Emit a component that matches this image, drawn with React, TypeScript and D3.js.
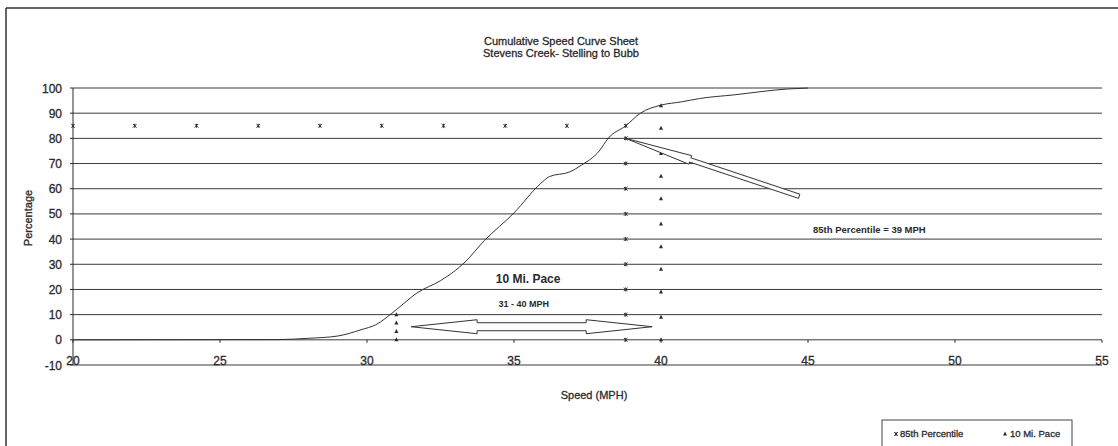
import React from "react";
import * as d3 from "d3";

// ---- data ----
const speeds = [20, 27, 28, 29, 29.8, 30.3, 31, 31.7, 32.5, 33, 33.3, 34, 35, 35.9, 36.2, 36.9, 37.3, 37.9, 38.2, 38.8, 39.3, 40, 40.7, 41.3, 42.5, 44.3, 45];
const cumPct = [0, 0.1, 0.6, 1.5, 4, 6, 12, 18.6, 23.5, 27.5, 30.5, 39.5, 50.4, 62, 64.8, 66.7, 69.4, 75, 80, 85, 90, 93.2, 94.5, 95.8, 97.3, 99.6, 100];

const pct85X = [20, 22.1, 24.2, 26.3, 28.4, 30.5, 32.6, 34.7, 36.8, 38.8, 38.8, 38.8, 38.8, 38.8, 38.8, 38.8, 38.8, 38.8, 38.8];
const pct85Y = [85, 85, 85, 85, 85, 85, 85, 85, 85, 85, 80, 70, 60, 50, 40, 30, 20, 10, 0];

const paceX = [31, 31, 31, 31, 40, 40, 40, 40, 40, 40, 40, 40, 40, 40, 40];
const paceY = [10, 6.7, 3.3, 0, 93, 84, 74, 65, 56, 46, 37, 28, 19, 9, 0];

const xTicks = [20, 25, 30, 35, 40, 45, 50, 55];
const yTicks = [-10, 0, 10, 20, 30, 40, 50, 60, 70, 80, 90, 100];

const titleLines = ["Cumulative Speed Curve Sheet", "Stevens Creek- Stelling to Bubb"];

export default function App() {
  const W = 1118, H = 446;
  const x = d3.scaleLinear().domain([20, 55]).range([73, 1102]);
  const y = d3.scaleLinear().domain([-10, 100]).range([365, 88]);
  const ink = "#2a2a2a";
  const font = "'Liberation Sans', Arial, sans-serif";
  const heavy = { stroke: ink, strokeWidth: 0.3 } as const;

  const line = d3.line<number>()
    .x((_, i) => x(speeds[i]))
    .y((d) => y(d))
    .curve(d3.curveMonotoneX);

  // callout arrow (tip at 85th percentile point, tail down-right)
  const tip: [number, number] = [x(38.8), y(80)];
  const tail: [number, number] = [x(44.7), y(57)];
  const dx = tail[0] - tip[0], dy = tail[1] - tip[1];
  const len = Math.hypot(dx, dy);
  const ux = dx / len, uy = dy / len, nx = -uy, ny = ux;
  const headL = 68, headW = 4.5, shaftW = 2.2;
  const P = (a: number, b: number) => `${tip[0] + ux * a + nx * b},${tip[1] + uy * a + ny * b}`;
  const callout = [P(0, 0), P(headL, -headW), P(headL, -shaftW), P(len, -shaftW), P(len, shaftW), P(headL, shaftW), P(headL, headW)].join(" ");

  // double arrow for 10 mi pace
  const lx = x(31.5), rx = x(39.7), cy = y(5.2);
  const hl = 66, hh = 7, sh = 4;
  const dbl = [
    [lx, cy], [lx + hl, cy - hh], [lx + hl, cy - sh], [rx - hl, cy - sh], [rx - hl, cy - hh], [rx, cy],
    [rx - hl, cy + hh], [rx - hl, cy + sh], [lx + hl, cy + sh], [lx + hl, cy + hh],
  ].map((p) => p.join(",")).join(" ");

  const star = (cx: number, cy: number, k: number) => (
    <g key={k} stroke={ink} strokeWidth={1}>
      <line x1={cx - 1.8} y1={cy - 1.8} x2={cx + 1.8} y2={cy + 1.8} />
      <line x1={cx - 1.8} y1={cy + 1.8} x2={cx + 1.8} y2={cy - 1.8} />
      <line x1={cx} y1={cy - 2} x2={cx} y2={cy + 2} />
    </g>
  );
  const tri = (cx: number, cy: number, k: number) => (
    <path key={k} d={`M${cx},${cy - 2.5}L${cx + 2},${cy + 1.5}L${cx - 2},${cy + 1.5}Z`} fill={ink} />
  );

  return (
    <svg width={W} height={H} style={{ position: "absolute", left: 0, top: 0, background: "#fff" }} fontFamily={font}>
      <rect x={0} y={0} width={W} height={H} fill="#fff" />
      {/* outer frame */}
      <line x1={6} y1={8} x2={W} y2={8} stroke="#333" strokeWidth={1.5} />
      <line x1={6} y1={8} x2={6} y2={H} stroke="#333" strokeWidth={1.5} />

      {/* title */}
      {titleLines.map((t, i) => (
        <text key={t} x={561} y={45 + i * 12} textAnchor="middle" fontSize={11} fill={ink} {...heavy}>{t}</text>
      ))}

      {/* gridlines */}
      {yTicks.map((t) => (
        <line key={t} x1={x(20)} x2={x(55)} y1={y(t)} y2={y(t)} stroke="#3a3a3a" strokeWidth={1} />
      ))}
      {/* y axis */}
      <line x1={x(20)} x2={x(20)} y1={y(100)} y2={y(-10)} stroke={ink} strokeWidth={1} />
      {yTicks.map((t) => (
        <g key={t}>
          <line x1={x(20) - 3} x2={x(20)} y1={y(t)} y2={y(t)} stroke={ink} />
          <text x={62} y={y(t) + 4.5} textAnchor="end" fontSize={12} fill={ink} {...heavy}>{t}</text>
        </g>
      ))}
      {/* x ticks on zero line */}
      {xTicks.map((t) => (
        <g key={t}>
          <line x1={x(t)} x2={x(t)} y1={y(0)} y2={y(0) + 3} stroke={ink} />
          <text x={x(t)} y={y(-10)} textAnchor="middle" fontSize={12} fill={ink} {...heavy}>{t}</text>
        </g>
      ))}

      {/* axis titles */}
      <text x={594} y={399} textAnchor="middle" fontSize={11} fill={ink} {...heavy}>Speed (MPH)</text>
      <text transform={`translate(32,218) rotate(-90)`} textAnchor="middle" fontSize={11} fill={ink} {...heavy}>Percentage</text>

      {/* cumulative curve */}
      <path d={line(cumPct) || ""} fill="none" stroke="#333" strokeWidth={1} />

      {/* markers */}
      {pct85X.map((v, i) => star(x(v), y(pct85Y[i]), i))}
      {paceX.map((v, i) => tri(x(v), y(paceY[i]), i))}

      {/* annotations */}
      <polygon points={callout} fill="#fff" stroke="#333" strokeWidth={1} />
      <polygon points={dbl} fill="#fff" stroke="#333" strokeWidth={1} />
      <text x={x(35.48)} y={283} textAnchor="middle" fontSize={12} fontWeight="bold" fill={ink}>10 Mi. Pace</text>
      <text x={x(35.33)} y={307} textAnchor="middle" fontSize={9} fontWeight="bold" fill={ink}>31 - 40 MPH</text>
      <text x={813} y={233} fontSize={9.5} fontWeight="bold" fill={ink}>85th Percentile = 39 MPH</text>

      {/* legend */}
      <rect x={882} y={420} width={190} height={40} fill="#fff" stroke="#444" strokeWidth={1} />
      {star(896, 434, 999)}
      <text x={900} y={437} fontSize={9.5} fill={ink} {...heavy}>85th Percentile</text>
      {tri(1005, 434, 998)}
      <text x={1010} y={437} fontSize={9.5} fill={ink} {...heavy}>10 Mi. Pace</text>
    </svg>
  );
}
